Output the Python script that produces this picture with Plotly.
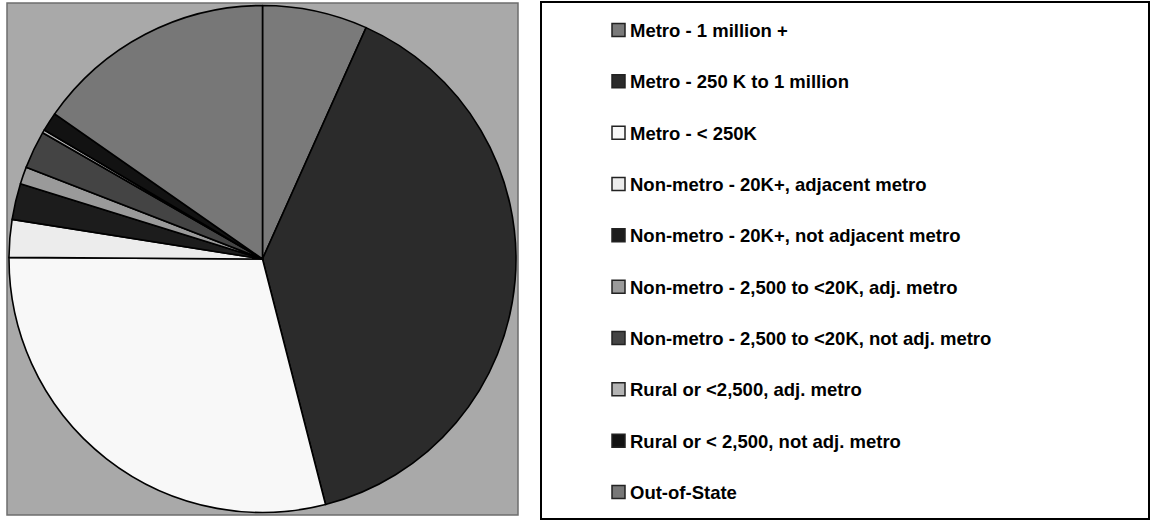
import plotly.graph_objects as go

W, H = 1150, 521

labels = [
    "Metro - 1 million +",
    "Metro - 250 K to 1 million",
    "Metro - < 250K",
    "Non-metro - 20K+, adjacent metro",
    "Non-metro - 20K+, not adjacent metro",
    "Non-metro - 2,500 to <20K, adj. metro",
    "Non-metro - 2,500 to <20K, not adj. metro",
    "Rural or <2,500, adj. metro",
    "Rural or < 2,500, not adj. metro",
    "Out-of-State",
]
values = [6.7, 39.3, 29.1, 2.4, 2.3, 1.1, 2.4, 0.2, 1.2, 15.3]
colors = ["#7a7a7a", "#2b2b2b", "#f8f8f8", "#ececec", "#1c1c1c",
          "#9a9a9a", "#444444", "#b4b4b4", "#121212", "#777777"]

def px(x):
    return x / W

def py(y):
    return 1 - y / H

fig = go.Figure()
fig.add_trace(go.Pie(
    labels=labels, values=values, sort=False, direction="clockwise", rotation=0,
    marker=dict(colors=colors, line=dict(color="#000000", width=1.6)),
    textinfo="none", showlegend=False,
    domain=dict(x=[px(9), px(516)], y=[py(513), py(5)]),
))

shapes = [
    # gray plot area
    dict(type="rect", xref="paper", yref="paper", x0=px(7), x1=px(518), y0=py(515), y1=py(3),
         fillcolor="#a9a9a9", line=dict(color="#6e6e6e", width=1.5), layer="below"),
    # legend box
    dict(type="rect", xref="paper", yref="paper", x0=px(541), x1=px(1149), y0=py(519), y1=py(2),
         fillcolor="#ffffff", line=dict(color="#000000", width=2), layer="below"),
]
annotations = []
row0, step = 30, (492 - 30) / 9
for i, (lab, col) in enumerate(zip(labels, colors)):
    yc = row0 + i * step
    shapes.append(dict(type="rect", xref="paper", yref="paper",
                       x0=px(612), x1=px(625), y0=py(yc + 6.5), y1=py(yc - 6.5),
                       fillcolor=col, line=dict(color="#222222", width=1.5)))
    annotations.append(dict(xref="paper", yref="paper", x=px(628), y=py(yc + 0.5),
                            xanchor="left", yanchor="middle", showarrow=False, text=lab,
                            font=dict(family="Liberation Sans, Arial, sans-serif", size=18.5,
                                      color="#000000", weight="bold")))

fig.update_layout(
    width=W, height=H, margin=dict(l=0, r=0, t=0, b=0),
    paper_bgcolor="#ffffff", plot_bgcolor="#ffffff",
    shapes=shapes, annotations=annotations, showlegend=False,
)
fig.write_html("out.html", config={"displayModeBar": False},
               post_script="document.body.style.margin='0';document.body.style.overflow='hidden';")
